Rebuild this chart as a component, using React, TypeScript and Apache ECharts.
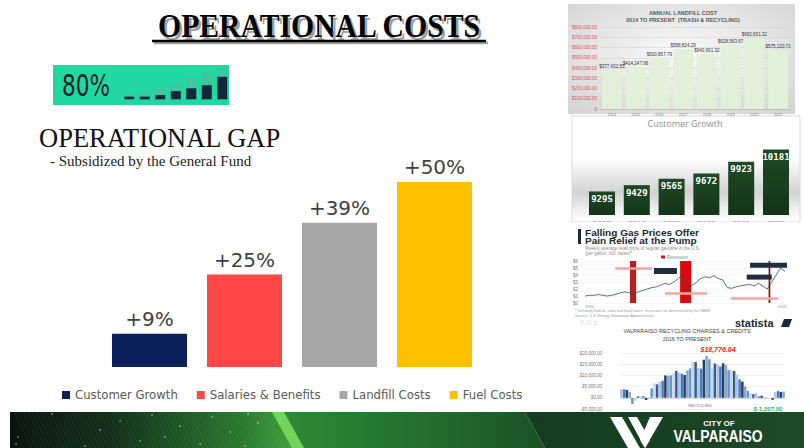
import React, { useEffect, useRef } from 'react';
import * as echarts from 'echarts';

// ---- main chart data ----
const gapCategories = ['Customer Growth', 'Salaries & Benefits', 'Landfill Costs', 'Fuel Costs'];
const gapValues = [9, 25, 39, 50];
const gapColors = ['#0b1f5a', '#ff4747', '#a6a6a6', '#ffc000'];

// ---- thumbnail: annual landfill cost ----
const landfillYears = ['2014', '2015', '2016', '2017', '2018', '2019', '2020', '2021'];
const landfillCosts = [377432.55, 414247.98, 500857.79, 588824.29, 540991.32, 628563.67, 692631.32, 575120.71];

// ---- thumbnail: customer growth ----
const customerYears = ['2017', '2018', '2019', '2020', '2021', '2022'];
const customerCounts = [9295, 9429, 9565, 9672, 9923, 10181];

// ---- thumbnail: weekly gas prices (approx.) ----
const gasPrices = [1.0, 1.1, 1.1, 1.2, 1.1, 1.0, 1.1, 1.25, 1.45, 1.6, 1.45, 1.35, 1.6, 1.8, 2.0, 2.2, 2.3, 2.55, 2.8, 2.65, 3.0, 3.5, 4.0, 1.8, 2.5, 2.9, 3.5, 3.75, 3.6, 3.9, 3.5, 3.3, 2.2, 2.1, 2.3, 2.45, 2.55, 2.65, 2.45, 2.8, 2.45, 2.0, 3.0, 4.0, 5.0, 4.5];

// ---- thumbnail: recycling charges & credits ----
const recyclingAmounts = [3800, 3800, 3500, 2600, -2800, -1500, 600, 600, 700, -1000, -400, 4200, 6500, 6000, 7200, 7600, 10000, 9800, 10000, 11000, 12000, 11200, 10800, 10200, 12200, 13100, 16200, 16000, 13400, 13000, 17000, 18776.04, 17200, 13200, 15300, 15000, 14000, 15400, 14600, 12400, 12200, 12000, 10400, 8200, 7200, 5100, 3100, 2100, 1600, 2200, 600, 900, 200, 100, 150, -1007.9, 2600, 3100, 2600, 2800];
const recyclingSlots = recyclingAmounts.map((_, i) => String(i + 1));
const recyclingPalette = ['#a9c6e8', '#4a7cc4', '#2b3f63', '#8ea6c6', '#5b9bd5', '#c9d7ea', '#3d5a8a'];

// ---- badge icon ----
const badgeSlots = ['1', '2', '3', '4', '5', '6', '7'];
const badgeLevels = [0.95, 0.95, 1.5, 2.9, 3.9, 5.0, 8.0];
const badgeGhost = [1.75, 2.9, 4.2, 5.5, 7.8, 9.5, 10.9];

const fmtMoney = (v: number) =>
  (v < 0 ? '-$' : '$') + Math.abs(v).toLocaleString('en-US', { minimumFractionDigits: 2, maximumFractionDigits: 2 });

function buildGraphics(): any[] {
  const g: any[] = [];
  const txt = (x: number, y: number, text: string, s: any, extra: any = {}) => ({
    type: 'text', x, y, ...extra,
    style: {
      text, fill: '#000', fontSize: 10, fontFamily: 'Liberation Sans',
      align: 'left', textAlign: 'left', verticalAlign: 'middle', textVerticalAlign: 'middle', ...s,
    },
  });

  // Title with shadow and underline
  g.push(txt(321.5, 28.5, 'OPERATIONAL COSTS', { fill: '#a0a0a0', fontSize: 33, fontWeight: 'bold', fontFamily: 'Liberation Serif', align: 'center', textAlign: 'center' }, { scaleX: 0.9 }));
  g.push(txt(319, 26, 'OPERATIONAL COSTS', { fill: '#000', fontSize: 33, fontWeight: 'bold', fontFamily: 'Liberation Serif', align: 'center', textAlign: 'center' }, { scaleX: 0.9 }));
  g.push({ type: 'line', shape: { x1: 154, y1: 43, x2: 488, y2: 43 }, style: { stroke: '#a0a0a0', lineWidth: 2.5 } });
  g.push({ type: 'line', shape: { x1: 152, y1: 41, x2: 486, y2: 41 }, style: { stroke: '#000', lineWidth: 2.5 } });

  // Badge
  g.push({ type: 'rect', shape: { x: 53, y: 65, width: 176, height: 40 }, style: { fill: '#21d8a0' } });
  g.push(txt(62, 86, '80%', { fill: '#0f1f2a', fontSize: 30, fontFamily: 'DejaVu Sans' }, { scaleX: 0.72, z: 3 }));

  // Sub headings
  g.push(txt(39, 138, 'OPERATIONAL GAP', { fill: '#111', fontSize: 26.5, fontFamily: 'Liberation Serif' }));
  g.push(txt(50, 161, '- Subsidized by the General Fund', { fill: '#222', fontSize: 15, fontFamily: 'Liberation Serif' }));

  // Panel 1: landfill
  g.push({
    type: 'rect', shape: { x: 568, y: 4, width: 227, height: 110 },
    style: { fill: { type: 'radial', x: 0.5, y: 0.45, r: 0.75, colorStops: [{ offset: 0, color: '#fafafa' }, { offset: 1, color: '#d2d2d2' }] } },
  });
  g.push(txt(683, 12.5, 'ANNUAL LANDFILL COST', { fill: '#595959', fontSize: 5.5, lineHeight: 6, fontWeight: 'bold', align: 'center', textAlign: 'center' }));
  g.push(txt(683, 19.5, '2014 TO PRESENT  (TRASH & RECYCLING)', { fill: '#595959', fontSize: 5.5, lineHeight: 6, fontWeight: 'bold', align: 'center', textAlign: 'center' }));

  // Panel 2: customer growth
  g.push({
    type: 'rect', shape: { x: 572, y: 116, width: 228, height: 106 },
    style: {
      fill: { type: 'linear', x: 0, y: 0, x2: 0, y2: 1, colorStops: [{ offset: 0, color: '#ffffff' }, { offset: 0.4, color: '#ffffff' }, { offset: 0.72, color: '#d2d2d2' }, { offset: 0.9, color: '#f2f2f2' }, { offset: 1, color: '#ffffff' }] },
      stroke: '#d9d9d9', lineWidth: 1,
    },
  });
  g.push(txt(685, 123, 'Customer Growth', { fill: '#8c8c8c', fontSize: 9, fontFamily: 'Open Sans', align: 'center', textAlign: 'center' }));
  g.push({ type: 'rect', z: 100, shape: { x: 570, y: 222, width: 234, height: 6 }, style: { fill: '#ffffff' } });

  // Panel 3: gas prices
  g.push({ type: 'rect', z: 101, shape: { x: 578, y: 229, width: 3, height: 15 }, style: { fill: '#1c2833' } });
  g.push(txt(585, 232.5, 'Falling Gas Prices Offer', { fill: '#1c2833', fontSize: 9.5, lineHeight: 8, fontWeight: 'bold' }, { z: 101, scaleX: 1.06 }));
  g.push(txt(585, 241, 'Pain Relief at the Pump', { fill: '#1c2833', fontSize: 9.5, lineHeight: 8, fontWeight: 'bold' }, { z: 101, scaleX: 1.06 }));
  g.push(txt(585, 248.5, 'Weekly average retail price of regular gasoline in the U.S.', { fill: '#8a8a8a', fontSize: 4.5, lineHeight: 5 }));
  g.push(txt(585, 253.5, '(per gallon, incl. taxes)*', { fill: '#8a8a8a', fontSize: 4.5, lineHeight: 5 }));
  g.push({ type: 'rect', shape: { x: 661, y: 255.5, width: 4, height: 3 }, style: { fill: '#c81e1e' } });
  g.push(txt(667, 257, 'Recession', { fill: '#8a8a8a', fontSize: 4.5, lineHeight: 5 }));
  g.push(txt(585, 306, '1993', { fill: '#8a8a8a', fontSize: 4, lineHeight: 4.5 }));
  g.push(txt(778, 306, '2022', { fill: '#8a8a8a', fontSize: 4, lineHeight: 4.5 }));
  g.push(txt(575, 310.5, '* Including federal, state and local taxes; recessions as determined by the NBER', { fill: '#9a9a9a', fontSize: 3.8, lineHeight: 4.5 }));
  g.push(txt(575, 315.5, 'Source: U.S. Energy Information Administration', { fill: '#9a9a9a', fontSize: 3.8, lineHeight: 4.5 }));
  g.push(txt(580, 323, '\u00a9 \u24d8 \u2261', { fill: '#c8c8c8', fontSize: 6 }));
  g.push(txt(735, 323, 'statista', { fill: '#1c2833', fontSize: 11, fontWeight: 'bold' }));
  g.push({ type: 'polygon', shape: { points: [[781, 327], [784, 319], [792, 319], [789, 327]] }, style: { fill: '#1c2833' } });

  // Panel 4: recycling
  g.push(txt(687, 331, 'VALPARAISO RECYCLING CHARGES & CREDITS', { fill: '#404040', fontSize: 5.5, lineHeight: 6, align: 'center', textAlign: 'center' }));
  g.push(txt(687, 339, '2016 TO PRESENT', { fill: '#404040', fontSize: 5.5, lineHeight: 6, align: 'center', textAlign: 'center' }));
  g.push(txt(718, 349, '$18,776.04', { fill: '#ff2020', fontSize: 7, fontStyle: 'italic', fontWeight: 'bold', align: 'center', textAlign: 'center' }));
  g.push(txt(700, 405, 'RECYCLING', { fill: '#666', fontSize: 4, align: 'center', textAlign: 'center' }));
  g.push(txt(768, 409, '$-1,007.90', { fill: '#2ea84a', fontSize: 6, fontWeight: 'bold', align: 'center', textAlign: 'center' }));

  // Footer
  g.push({
    type: 'polygon', z: 50, shape: { points: [[10, 412], [282, 412], [302, 448], [10, 448]] },
    style: { fill: { type: 'linear', x: 0, y: 0, x2: 1, y2: 0, colorStops: [{ offset: 0, color: '#0c1510' }, { offset: 0.35, color: '#12301a' }, { offset: 0.8, color: '#2a7a30' }, { offset: 1, color: '#46a83e' }] } },
  });
  g.push({
    type: 'polygon', z: 50, shape: { points: [[282, 412], [525, 412], [545, 448], [302, 448]] },
    style: { fill: { type: 'linear', x: 0, y: 0, x2: 1, y2: 0, colorStops: [{ offset: 0, color: '#2f8a34' }, { offset: 0.5, color: '#237030' }, { offset: 1, color: '#1a5226' }] } },
  });
  g.push({
    type: 'polygon', z: 50, shape: { points: [[525, 412], [804, 412], [804, 448], [545, 448]] },
    style: { fill: { type: 'linear', x: 0, y: 0, x2: 1, y2: 0, colorStops: [{ offset: 0, color: '#143a1f' }, { offset: 1, color: '#1e4a28' }] } },
  });
  g.push({ type: 'polygon', z: 51, shape: { points: [[272, 412], [284, 412], [304, 448], [292, 448]] }, style: { fill: '#72d45c' } });
  for (let x = 14; x <= 266; x += 4.5) {
    g.push({ type: 'line', z: 51, shape: { x1: x, y1: 412, x2: x + 18, y2: 448 }, style: { stroke: 'rgba(255,255,255,0.10)', lineWidth: 0.6 } });
  }
  const dots = [[18, 437], [16, 444], [52, 414], [100, 430], [85, 446], [120, 421], [152, 415], [165, 437], [180, 426], [200, 444], [212, 417], [230, 432], [245, 446], [258, 423], [248, 414], [140, 441]];
  dots.forEach(([cx, cy]) => g.push({ type: 'circle', z: 52, shape: { cx, cy, r: 0.7 }, style: { fill: 'rgba(255,255,255,0.8)' } }));

  // Logo
  g.push({ type: 'polygon', z: 53, shape: { points: [[610, 417], [622, 417], [640, 448], [628, 448]] }, style: { fill: '#ffffff' } });
  g.push({ type: 'polygon', z: 53, shape: { points: [[628, 417], [637, 417], [650, 440], [645, 448]] }, style: { fill: '#ffffff' } });
  g.push({ type: 'polygon', z: 53, shape: { points: [[650, 417], [663, 417], [645, 448], [640, 440]] }, style: { fill: '#ffffff' } });
  g.push(txt(719, 423, 'CITY OF', { fill: '#ffffff', fontSize: 8, lineHeight: 8, fontWeight: 'bold', align: 'center', textAlign: 'center' }, { z: 53 }));
  g.push(txt(718, 436, 'VALPARAISO', { fill: '#ffffff', fontSize: 16, lineHeight: 15, fontWeight: 'bold', align: 'center', textAlign: 'center' }, { z: 53, scaleX: 0.87 }));
  return g;
}

export default function App() {
  const ref = useRef<HTMLDivElement>(null);
  useEffect(() => {
    if (!ref.current) return;
    const chart = echarts.init(ref.current, undefined, { renderer: 'svg' });
    const greenBar = new echarts.graphic.LinearGradient(0, 0, 0, 1, [
      { offset: 0, color: '#1f4a24' },
      { offset: 1, color: '#143417' },
    ]);
    const option: any = {
      animation: false,
      backgroundColor: '#ffffff',
      legend: {
        data: gapCategories, left: 57, top: 384, itemWidth: 8, itemHeight: 8, itemGap: 19, icon: 'rect',
        selectedMode: false,
        textStyle: { fontFamily: 'DejaVu Sans', fontSize: 11.7, color: '#595959' },
      },
      grid: [
        { left: 102, top: 145, width: 380, height: 222 },
        { left: 600, top: 27, width: 190, height: 82 },
        { left: 584.6, top: 139, width: 208.8, height: 76 },
        { left: 585, top: 261, width: 200, height: 42 },
        { left: 620, top: 353, width: 165, height: 56 },
        { left: 121.5, top: 68.3, width: 108.5, height: 31 },
      ],
      xAxis: [
        { gridIndex: 0, type: 'category', data: gapCategories, show: false },
        {
          gridIndex: 1, type: 'category', data: landfillYears,
          axisLine: { lineStyle: { color: '#bfbfbf' } }, axisTick: { show: false },
          axisLabel: { fontSize: 4, color: '#7f7f7f', margin: 3 },
        },
        {
          gridIndex: 2, type: 'category', data: customerYears,
          axisLine: { show: false }, axisTick: { show: false },
          axisLabel: { fontSize: 8, color: '#9a9a9a', margin: 4 },
        },
        { gridIndex: 3, type: 'value', min: 0, max: gasPrices.length - 1, show: false },
        {
          gridIndex: 4, type: 'category', data: recyclingSlots,
          axisLine: { lineStyle: { color: '#bfbfbf', width: 0.5 } }, axisTick: { show: false }, axisLabel: { show: false },
        },
        { gridIndex: 5, type: 'category', data: badgeSlots, show: false },
      ],
      yAxis: [
        { gridIndex: 0, type: 'value', min: 0, max: 60, show: false },
        {
          gridIndex: 1, type: 'value', min: 0, max: 800000, interval: 100000,
          axisLine: { show: false }, axisTick: { show: false },
          axisLabel: { fontSize: 4.5, color: '#e05050', margin: 3, formatter: (v: number) => (v === 0 ? '0' : fmtMoney(v)) },
          splitLine: { lineStyle: { color: '#cfcfcf', width: 0.5 } },
        },
        { gridIndex: 2, type: 'value', min: 8800, max: 10400, show: false },
        {
          gridIndex: 3, type: 'value', min: 0, max: 6, interval: 1,
          axisLine: { show: false }, axisTick: { show: false },
          axisLabel: { fontSize: 4.5, color: '#777', align: 'left', margin: 12, formatter: (v: number) => '$' + v },
          splitLine: { lineStyle: { color: '#d8d8d8', type: 'dotted', width: 0.5 } },
        },
        {
          gridIndex: 4, type: 'value', min: -5000, max: 20000, interval: 5000,
          axisLine: { show: false }, axisTick: { show: false },
          axisLabel: { fontSize: 4.5, color: '#777', fontStyle: 'italic', margin: 18, formatter: (v: number) => fmtMoney(v) },
          splitLine: { lineStyle: { color: '#e3e3e3', width: 0.5 } },
        },
        { gridIndex: 5, type: 'value', min: 0, max: 11, show: false },
      ],
      series: [
        ...gapCategories.map((name, i) => ({
          name, type: 'bar', xAxisIndex: 0, yAxisIndex: 0, stack: 'gap', barWidth: 75,
          data: gapCategories.map((_, j) => (j === i ? gapValues[i] : '-')),
          itemStyle: { color: gapColors[i] },
          label: {
            show: true, position: 'top', distance: 5, formatter: '+{c}%',
            fontFamily: 'DejaVu Sans', fontSize: 20, color: '#404040',
          },
        })),
        {
          name: 'Landfill cost', type: 'bar', xAxisIndex: 1, yAxisIndex: 1, barWidth: 20,
          data: landfillCosts, itemStyle: { color: '#e2efd9' },
          label: { show: true, position: 'top', distance: 1, fontSize: 4.5, color: '#333', formatter: (p: any) => fmtMoney(p.value) },
        },
        {
          name: 'Customers', type: 'bar', xAxisIndex: 2, yAxisIndex: 2, barWidth: 26,
          data: customerCounts, itemStyle: { color: greenBar },
          label: { show: true, position: 'insideTop', distance: 3, fontSize: 9, fontWeight: 'bold', fontFamily: 'DejaVu Sans Mono', color: '#ffffff' },
        },
        {
          name: 'Gas price', type: 'line', xAxisIndex: 3, yAxisIndex: 3, showSymbol: false,
          data: gasPrices.map((v, i) => [i, v]),
          lineStyle: { color: '#3a4a5a', width: 0.8 },
          markArea: {
            silent: true,
            data: [
              [{ xAxis: 10.1, itemStyle: { color: '#b52020' } }, { xAxis: 11.5 }],
              [{ xAxis: 21.4, itemStyle: { color: '#d60b0b' } }, { xAxis: 23.9 }],
              [{ xAxis: 41.3, itemStyle: { color: '#8b1a1a' } }, { xAxis: 41.7 }],
            ],
          },
          markLine: {
            silent: true, symbol: 'none', label: { show: false },
            lineStyle: { color: '#f4a3a3', width: 2.5, type: 'solid' },
            data: [
              [{ coord: [6.8, 5.0] }, { coord: [15.1, 5.0] }],
              [{ coord: [18, 1.43] }, { coord: [27.5, 1.43] }],
              [{ coord: [32.9, 0.7] }, { coord: [43.5, 0.7] }],
            ],
          },
          markPoint: {
            silent: true, label: { show: false }, itemStyle: { color: '#1f2d3d' },
            data: [
              { coord: [18.1, 4.57], symbol: 'rect', symbolSize: [23, 6] },
              { coord: [41.3, 5.4], symbol: 'rect', symbolSize: [37, 5] },
              { coord: [39.2, 3.7], symbol: 'rect', symbolSize: [25, 5] },
            ],
          },
        },
        {
          name: 'Recycling', type: 'bar', xAxisIndex: 4, yAxisIndex: 4, barCategoryGap: '8%',
          data: recyclingAmounts,
          itemStyle: { color: (p: any) => recyclingPalette[p.dataIndex % recyclingPalette.length] },
        },
        {
          name: 'ghost', type: 'bar', xAxisIndex: 5, yAxisIndex: 5, barWidth: 10, barGap: '-100%',
          data: badgeGhost, itemStyle: { color: '#3fc79b' }, z: 4,
        },
        {
          name: 'level', type: 'bar', xAxisIndex: 5, yAxisIndex: 5, barWidth: 10, barGap: '-100%',
          data: badgeLevels, itemStyle: { color: '#10283a' }, z: 5,
        },
      ],
      graphic: buildGraphics(),
    };
    chart.setOption(option);
    return () => chart.dispose();
  }, []);
  return <div ref={ref} style={{ position: 'absolute', left: 0, top: 0, width: 804, height: 448 }} />;
}
